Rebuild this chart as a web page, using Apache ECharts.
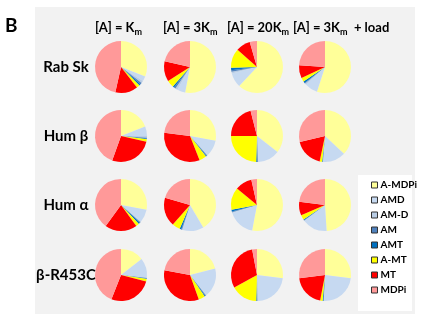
<!DOCTYPE html>
<html><head><meta charset="utf-8">
<script src="https://cdn.jsdelivr.net/npm/echarts@6/dist/echarts.min.js"></script>
<style>html,body{margin:0;padding:0;background:#fff}#c{width:424px;height:323px}</style>
</head><body><div id="c"></div>
<script>
// slice categories (clockwise from 12 o'clock)
const states = ['A-MDPi','AMD','AM-D','AM','AMT','A-MT','MT','MDPi'];
const stateColors = ['#FFFF99','#C6D9F1','#B9CDE5','#4F81BD','#0070C0','#FFFF00','#FF0000','#FF9999'];
// row labels / column headers
const rowLabels = ['Rab Sk','Hum β','Hum α','β-R453C'];
const colHeads = [['[A] = K','m',''],['[A] = 3K','m',''],['[A] = 20K','m',''],['[A] = 3K','m','  + load']];
// values (% of cycle) per row, per column: [Km, 3Km, 20Km, 3Km+load]
const rabSk = [
  [31, 3, 1.5, 1, 1, 2, 14, 46.5],
  [53, 5, 1.5, 1, 1, 4.5, 12.5, 21.5],
  [62, 9, 1, 1, 1.5, 12, 9, 4.5],
  [55, 8, 1, 0.5, 1, 2.5, 8, 24]
];
const humBeta = [
  [19, 6, 1, 0.5, 0.5, 1.5, 27, 44.5],
  [28, 10, 0.5, 0.5, 0.5, 4.5, 33, 23],
  [35.5, 13.5, 0.5, 0.5, 0.5, 24.5, 21, 4],
  [37, 14, 0.3, 0.2, 0.3, 1.5, 18, 28.7]
];
const humAlpha = [
  [28, 8, 0.5, 0.5, 1, 2, 20, 40],
  [41.5, 13, 0.5, 0.5, 1, 5, 18, 20.5],
  [53, 17, 0.5, 0.5, 1, 14, 10.5, 3.5],
  [49, 15.5, 0.3, 0.3, 0.4, 3, 8.5, 23]
];
const betaR453C = [
  [14.5, 12, 0.3, 0.3, 0.4, 1.5, 27, 44],
  [21, 18, 0.5, 0.5, 0.5, 4, 33.5, 22],
  [27, 22.5, 0.3, 0.3, 0.4, 16.5, 30, 3],
  [27, 23.5, 0.3, 0.2, 0.5, 1.5, 20, 27]
];
const rows = [rabSk, humBeta, humAlpha, betaR453C];

const colX = [121, 190, 257, 325];
const rowY = [67, 136, 205, 275];
const R = 26;

const series = [];
rows.forEach((row, ri) => {
  row.forEach((vals, ci) => {
    series.push({
      type: 'pie',
      center: [colX[ci], rowY[ri]],
      radius: R,
      startAngle: 90,
      clockwise: true,
      label: {show: false},
      labelLine: {show: false},
      silent: true,
      animation: false,
      itemStyle: {borderWidth: 0},
      data: states.map((s, k) => ({name: s, value: vals[k]}))
    });
  });
});

const graphic = [
  {type: 'rect', shape: {x: 35, y: 7, width: 380, height: 307}, style: {fill: '#F2F2F2'}, z: -10},
  {type: 'rect', shape: {x: 358, y: 175, width: 54, height: 136}, style: {fill: '#FFFFFF'}, z: -5},
  {type: 'text', left: 5, top: 16, style: {text: 'B', font: 'bold 19px Lato, "Open Sans", sans-serif', fill: '#000'}}
];
rowLabels.forEach((t, i) => {
  graphic.push({type: 'text', x: 66, y: rowY[i], style: {text: t, font: 'bold 15px Lato, "Open Sans", sans-serif', fill: '#000', align: 'center', verticalAlign: 'middle'}});
});
const headX = [95, 163, 227, 293];
colHeads.forEach((h, i) => {
  graphic.push({type: 'text', x: headX[i], y: 28, style: {
    text: '{a|' + h[0] + '}{s|' + h[1] + '}' + (h[2] ? '{a|' + h[2] + '}' : ''),
    verticalAlign: 'middle',
    rich: {
      a: {font: 'bold 13px Lato, "Open Sans", sans-serif', fill: '#000', lineHeight: 18, verticalAlign: 'middle'},
      s: {font: 'bold 9px Lato, "Open Sans", sans-serif', fill: '#000', lineHeight: 8, verticalAlign: 'bottom'}
    }
  }});
});

const chart = echarts.init(document.getElementById('c'), null, {renderer: 'canvas'});
chart.setOption({
  animation: false,
  color: stateColors,
  legend: {
    data: states,
    orient: 'vertical',
    left: 366, top: 175,
    itemWidth: 6, itemHeight: 6, itemGap: 5,
    icon: 'rect',
    itemStyle: {borderColor: '#333', borderWidth: 1},
    textStyle: {fontSize: 10, fontWeight: 'bold', color: '#000', fontFamily: 'Lato, "Open Sans", sans-serif', padding: [0, 0, 0, -2]},
    selectedMode: false
  },
  graphic: graphic,
  series: series
});
</script></body></html>
